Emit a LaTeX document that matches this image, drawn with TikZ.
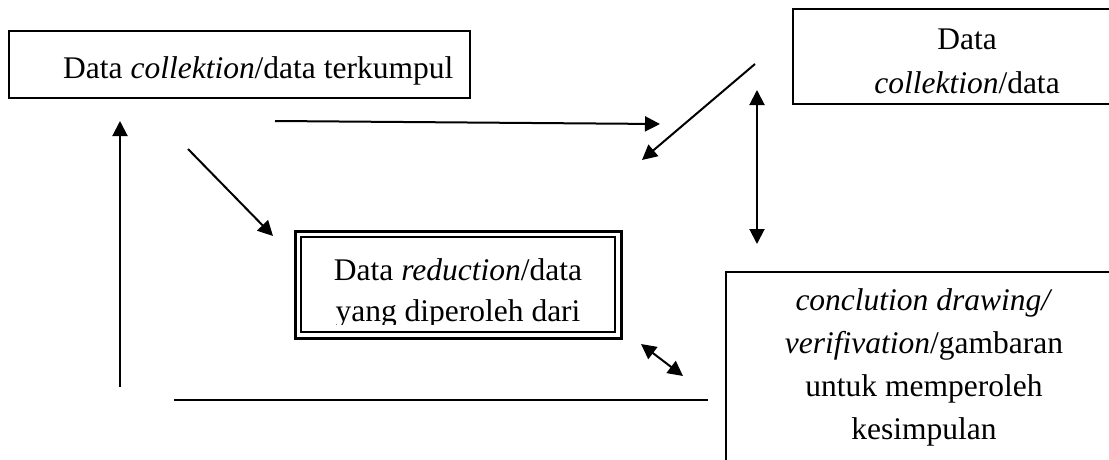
\documentclass[tikz,border=0pt]{standalone}
\usepackage{fontspec}
\setmainfont{Liberation Serif}
\usetikzlibrary{arrows.meta}
\begin{document}
\begin{tikzpicture}[x=1pt,y=-1pt,
  txt/.style={anchor=base,inner sep=0pt,font=\fontsize{31.5}{43}\selectfont},
  boxline/.style={line width=1.5pt},
  tip/.style={},
  conn/.style={line width=2pt,-{Triangle[length=15pt,width=15pt]}},
  dconn/.style={line width=2pt,{Triangle[length=15pt,width=15pt]}-{Triangle[length=15pt,width=15pt]}},
  plain/.style={line width=2pt}]
\useasboundingbox (0,0) rectangle (1109,460);
% boxes
\node[draw,boxline,minimum width=461pt,minimum height=67pt,inner sep=0pt] (b1) at (239.5,64.5) {};
\node[draw,boxline,minimum width=348pt,minimum height=95pt,inner sep=0pt] (b2) at (967,56.5) {};
\node[draw,line width=3pt,minimum width=326pt,minimum height=107pt,inner sep=0pt] (rout) at (458,284.5) {};
\node[draw,line width=1.3pt,minimum width=314pt,minimum height=95pt,inner sep=0pt] (rin) at (458,284.5) {};
\coordinate (cbl) at (726,462);
\coordinate (ctl) at (726,272);
\coordinate (ctr) at (1111,272);
\draw[boxline] (cbl) -- (ctl) -- (ctr);
% texts
\node[txt,anchor=base west] (t1) at (63,78) {Data \textit{collektion}/data terkumpul};
\node[txt] (t2a) at (967,50) {Data};
\node[txt] (t2b) at (967,93) {\textit{collektion}/data};
\begin{scope}
\clip (rin.north west) rectangle ([yshift=8pt]rin.south east);
\node[txt] (t3a) at (458,280) {Data \textit{reduction}/data};
\node[txt] (t3b) at (458,321) {yang diperoleh dari};
\end{scope}
\node[txt] (t4a) at (924,310) {\textit{conclution drawing/}};
\node[txt] (t4b) at (924,353) {\textit{verifivation}/gambaran};
\node[txt] (t4c) at (924,396) {untuk memperoleh};
\node[txt] (t4d) at (924,439) {kesimpulan};
% connectors
\coordinate (u1) at (120,387); \coordinate (u2) at (120,121);
\coordinate (h1) at (275,121); \coordinate (h2) at (660,124);
\coordinate (d1) at (188,149); \coordinate (d2) at (273,236);
\coordinate (e1) at (755,64); \coordinate (e2) at (642,160);
\coordinate (v1) at (757,90); \coordinate (v2) at (757,244);
\coordinate (s1) at (641,344); \coordinate (s2) at (683,376);
\coordinate (l1) at (174,400); \coordinate (l2) at (708,400);
\draw[conn] (u1) -- (u2);
\draw[conn] (h1) -- (h2);
\draw[conn] (d1) -- (d2);
\draw[conn] (e1) -- (e2);
\draw[dconn] (v1) -- (v2);
\draw[dconn] (s1) -- (s2);
\draw[plain] (l1) -- (l2);
\end{tikzpicture}
\end{document}
